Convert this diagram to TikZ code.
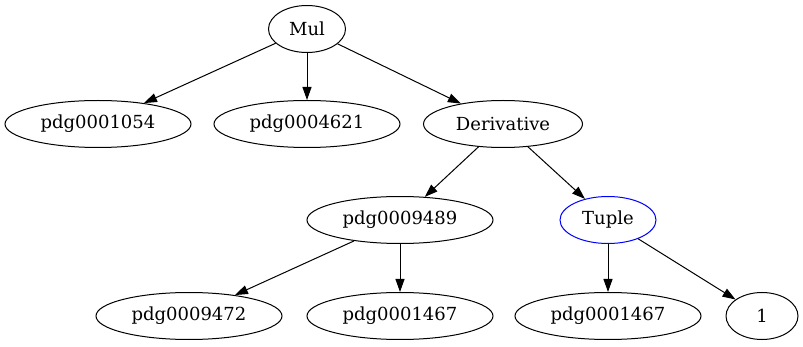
\documentclass[tikz,border=0pt]{standalone}
\usepackage{fontspec}
\setmainfont{DejaVu Serif}
\usetikzlibrary{shapes.geometric,arrows.meta}
\begin{document}
\begin{tikzpicture}[x=1pt,y=1pt,
  nd/.style={draw,ellipse,inner sep=0pt,minimum height=47pt,line width=1pt,font=\fontsize{18}{20}\selectfont},
  wide/.style={nd,minimum width=186pt},
  edge/.style={draw,line width=1pt,-{Triangle[length=13pt,width=9pt]}}]
\useasboundingbox (0,0) rectangle (803,-347);
\node[nd,minimum width=77pt] (mul) at (307,-29) {Mul};
\node[wide] (a) at (98,-124) {pdg0001054};
\node[wide] (b) at (307,-124) {pdg0004621};
\node[nd,minimum width=159pt] (der) at (503,-124) {Derivative};
\node[wide] (c) at (400,-220) {pdg0009489};
\node[nd,minimum width=96pt,draw=blue] (tup) at (608,-220) {Tuple};
\node[wide] (d) at (189,-316) {pdg0009472};
\node[wide] (e) at (400,-316) {pdg0001467};
\node[wide] (f) at (608,-316) {pdg0001467};
\node[nd,minimum width=72pt] (one) at (762,-316) {1};
\draw[edge] (mul) -- (a);
\draw[edge] (mul) -- (b);
\draw[edge] (mul) -- (der);
\draw[edge] (der) -- (c);
\draw[edge] (der) -- (tup);
\draw[edge] (c) -- (d);
\draw[edge] (c) -- (e);
\draw[edge] (tup) -- (f);
\draw[edge] (tup) -- (one);
\end{tikzpicture}
\end{document}
